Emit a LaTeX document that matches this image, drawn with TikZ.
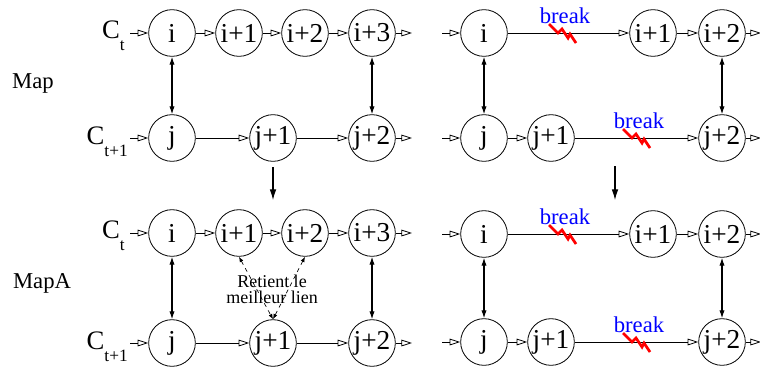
\documentclass[tikz,border=0pt]{standalone}
\usepackage{fontspec}
\setmainfont{Liberation Serif}
\usetikzlibrary{arrows.meta}

\newcommand{\nodefont}{\fontsize{17}{17}\selectfont}
\newcommand{\circfont}{\fontsize{20.5}{20.5}\selectfont}
\newcommand{\csub}[1]{\raisebox{-0.45em}{\fontsize{13}{13}\selectfont #1}}

\tikzset{
  st/.style={draw,circle,minimum size=35pt,inner sep=0pt,line width=0.6pt,font=\circfont},
  lbl/.style={inner sep=0pt,font=\nodefont},
  clbl/.style={inner sep=0pt,anchor=base east,font=\fontsize{20}{20}\selectfont},
  nxt/.style={line width=0.6pt,-{Triangle[open,length=8pt,width=5pt]}},
  lnk/.style={line width=0.8pt,{Latex[length=6pt,width=4pt]}-{Latex[length=6pt,width=4pt]}},
  best/.style={dashed,line width=0.5pt,{Latex[length=4pt,width=3pt]}-{Latex[length=4pt,width=3pt]}},
  dwn/.style={line width=0.8pt,-{Latex[length=8pt,width=5pt]}},
  brk/.pic={
    \draw[red,line width=2pt] (-13,-9) -- (-4,0) -- (0,-4) -- (6,5) -- (8,1) -- (14,10);
    \node[lbl,blue,anchor=base] at (3,-10) {break};
  }
}

\begin{document}
\begin{tikzpicture}[x=0.75pt,y=-0.75pt]
\useasboundingbox (0,0) rectangle (760,372);

\node[lbl,anchor=base] (map) at (33,88) {Map};
\node[lbl,anchor=base] (mapa) at (42,288) {MapA};

% Map, left
\node[st] (Ai) at (172,33) {i};
\node[st] (Ai1) at (239,33) {i+1};
\node[st] (Ai2) at (305,33) {i+2};
\node[st] (Ai3) at (372,33) {i+3};
\node[st] (Aj) at (172,138) {j};
\node[st] (Aj1) at (273,138) {j+1};
\node[st] (Aj2) at (372,138) {j+2};
\node[clbl] (Act) at (125,38) {C\csub{t}};
\node[clbl] (Act1) at (128,144) {C\csub{t+1}};
\coordinate (Ain) at (130,33);
\coordinate (Ajin) at (130,138);
\coordinate (Aout) at (412,33);
\coordinate (Ajout) at (412,138);
\draw[nxt] (Ain) -- (Ai);
\draw[nxt] (Ai) -- (Ai1);
\draw[nxt] (Ai1) -- (Ai2);
\draw[nxt] (Ai2) -- (Ai3);
\draw[nxt] (Ai3) -- (Aout);
\draw[nxt] (Ajin) -- (Aj);
\draw[nxt] (Aj) -- (Aj1);
\draw[nxt] (Aj1) -- (Aj2);
\draw[nxt] (Aj2) -- (Ajout);
\draw[lnk] (Ai) -- (Aj);
\draw[lnk] (Ai3) -- (Aj2);

% Map, right
\node[st] (Bi) at (484,33) {i};
\node[st] (Bi1) at (653,33) {i+1};
\node[st] (Bi2) at (722,33) {i+2};
\node[st] (Bj) at (484,138) {j};
\node[st] (Bj1) at (551,138) {j+1};
\node[st] (Bj2) at (722,138) {j+2};
\coordinate (Bin) at (442,33);
\coordinate (Bjin) at (442,138);
\coordinate (Bout) at (761,33);
\coordinate (Bjout) at (761,138);
\draw[nxt] (Bin) -- (Bi);
\draw[nxt] (Bi) -- (Bi1);
\draw[nxt] (Bi1) -- (Bi2);
\draw[nxt] (Bi2) -- (Bout);
\draw[nxt] (Bjin) -- (Bj);
\draw[nxt] (Bj) -- (Bj1);
\draw[nxt] (Bj1) -- (Bj2);
\draw[nxt] (Bj2) -- (Bjout);
\draw[lnk] (Bi) -- (Bj);
\draw[lnk] (Bi2) -- (Bj2);
\pic at (562,33) {brk};
\pic at (636,138) {brk};

% from Map to MapA
\coordinate (Adown) at (273,200);
\coordinate (Btop) at (615,166);
\coordinate (Bdown) at (615,200);
\draw[dwn,shorten <=4pt] (Aj1) -- (Adown);
\draw[dwn] (Btop) -- (Bdown);

% MapA, left
\node[st] (Ci) at (172,233) {i};
\node[st] (Ci1) at (239,233) {i+1};
\node[st] (Ci2) at (305,233) {i+2};
\node[st] (Ci3) at (372,233) {i+3};
\node[st] (Cj) at (172,343) {j};
\node[st] (Cj1) at (273,343) {j+1};
\node[st] (Cj2) at (372,343) {j+2};
\node[clbl] (Cct) at (125,238) {C\csub{t}};
\node[clbl] (Cct1) at (128,349) {C\csub{t+1}};
\coordinate (Cin) at (130,233);
\coordinate (Cjin) at (130,343);
\coordinate (Cout) at (412,233);
\coordinate (Cjout) at (412,343);
\draw[nxt] (Cin) -- (Ci);
\draw[nxt] (Ci) -- (Ci1);
\draw[nxt] (Ci1) -- (Ci2);
\draw[nxt] (Ci2) -- (Ci3);
\draw[nxt] (Ci3) -- (Cout);
\draw[nxt] (Cjin) -- (Cj);
\draw[nxt] (Cj) -- (Cj1);
\draw[nxt] (Cj1) -- (Cj2);
\draw[nxt] (Cj2) -- (Cjout);
\draw[lnk] (Ci) -- (Cj);
\draw[lnk] (Ci3) -- (Cj2);
\draw[best] (Ci1.south) -- (Cj1.north);
\draw[best] (Ci2.south) -- (Cj1.north);
\node[lbl,align=center,font=\fontsize{13.5}{12}\selectfont] (keep) at (272,289) {Retient le\\meilleur lien};

% MapA, right
\node[st] (Di) at (484,234) {i};
\node[st] (Di1) at (653,234) {i+1};
\node[st] (Di2) at (722,234) {i+2};
\node[st] (Dj) at (484,342) {j};
\node[st] (Dj1) at (551,342) {j+1};
\node[st] (Dj2) at (722,342) {j+2};
\coordinate (Din) at (442,234);
\coordinate (Djin) at (442,342);
\coordinate (Dout) at (761,234);
\coordinate (Djout) at (761,342);
\draw[nxt] (Din) -- (Di);
\draw[nxt] (Di) -- (Di1);
\draw[nxt] (Di1) -- (Di2);
\draw[nxt] (Di2) -- (Dout);
\draw[nxt] (Djin) -- (Dj);
\draw[nxt] (Dj) -- (Dj1);
\draw[nxt] (Dj1) -- (Dj2);
\draw[nxt] (Dj2) -- (Djout);
\draw[lnk] (Di) -- (Dj);
\draw[lnk] (Di2) -- (Dj2);
\pic at (562,234) {brk};
\pic at (636,342) {brk};
\end{tikzpicture}
\end{document}
